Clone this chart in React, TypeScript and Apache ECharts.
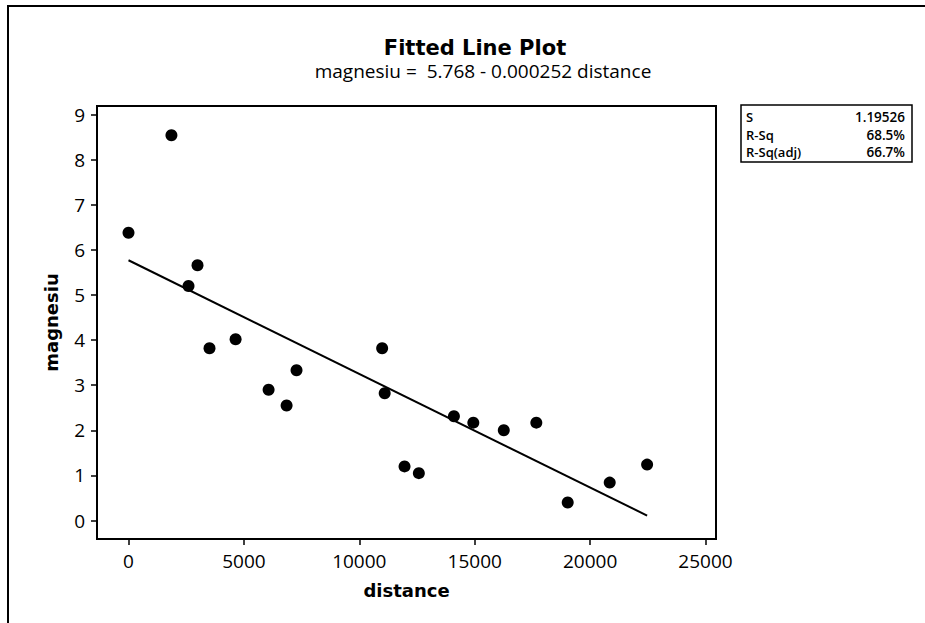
import React, { useEffect, useRef } from "react";
import * as echarts from "echarts";

const distance = [0, 1860, 2600, 2990, 3510, 4640, 6070, 6850, 7280, 10990, 11100, 11960, 12580, 14100, 14940, 16260, 17670, 19030, 20850, 22470];
const magnesiu = [6.38, 8.54, 5.2, 5.66, 3.82, 4.02, 2.9, 2.55, 3.33, 3.82, 2.82, 1.2, 1.05, 2.31, 2.17, 2.0, 2.17, 0.4, 0.84, 1.24];
const fitDistance = [0, 22470];
const fitMagnesiu = [5.77, 0.11];
const xTicks = [0, 5000, 10000, 15000, 20000, 25000];
const yTicks = [0, 1, 2, 3, 4, 5, 6, 7, 8, 9];
const statNames = ["S", "R-Sq", "R-Sq(adj)"];
const statValues = ["1.19526", "68.5%", "66.7%"];
const titleText = "Fitted Line Plot";
const subtitleText = "magnesiu =\u00a0\u00a05.768 - 0.000252 distance";

const FONT = "'Open Sans', 'DejaVu Sans', sans-serif";
const BOLD_FONT = "'DejaVu Sans', 'Open Sans', sans-serif";

export default function App() {
  const ref = useRef<HTMLDivElement>(null);
  useEffect(() => {
    document.body.style.margin = "0";
    document.body.style.overflow = "hidden";
    const chart = echarts.init(ref.current!, null, { renderer: "svg" });
    const points = distance.map((d, i) => [d, magnesiu[i]]);
    const fit = fitDistance.map((d, i) => [d, fitMagnesiu[i]]);
    const statRowsY = [117, 135, 152];
    const graphics: any[] = [
      {
        type: "line",
        shape: { x1: 8, y1: 5, x2: 8, y2: 640 },
        style: { stroke: "#000", lineWidth: 2 },
        silent: true,
      },
      {
        type: "line",
        shape: { x1: 7, y1: 6, x2: 925, y2: 6 },
        style: { stroke: "#000", lineWidth: 2 },
        silent: true,
      },
      {
        type: "rect",
        shape: { x: 741, y: 105, width: 171, height: 57 },
        style: { fill: "#fff", stroke: "#000", lineWidth: 1.5 },
        silent: true,
      },
      {
        type: "text",
        x: 475,
        y: 48,
        style: { text: titleText, fontFamily: BOLD_FONT, fontWeight: "bold", fontSize: 21, lineHeight: 20, fill: "#000", textAlign: "center", textVerticalAlign: "middle" },
      },
      {
        type: "text",
        x: 483,
        y: 71,
        style: { text: subtitleText, fontFamily: FONT, fontSize: 19, lineHeight: 19, fill: "#000", textAlign: "center", textVerticalAlign: "middle" },
      },
    ];
    statNames.forEach((n, i) => {
      graphics.push({
        type: "text",
        x: 746,
        y: statRowsY[i],
        style: { text: n, fontFamily: FONT, fontWeight: 600, fontSize: 13, lineHeight: 14, fill: "#000", textAlign: "left", textVerticalAlign: "middle" },
      });
      graphics.push({
        type: "text",
        x: 905,
        y: statRowsY[i],
        style: { text: statValues[i], fontFamily: FONT, fontWeight: 600, fontSize: 13.5, lineHeight: 14, fill: "#000", textAlign: "right", textVerticalAlign: "middle" },
      });
    });

    chart.setOption({
      animation: false,
      backgroundColor: "#fff",
      grid: { left: 97, top: 106, right: 209, bottom: 84, show: true, borderColor: "#000", borderWidth: 2, backgroundColor: "transparent" },
      xAxis: {
        type: "value",
        min: -1365,
        max: 25455,
        name: "distance",
        nameLocation: "middle",
        nameGap: 42,
        nameTextStyle: { fontFamily: BOLD_FONT, fontWeight: "bold", fontSize: 18, color: "#000" },
        axisLine: { show: true, onZero: false, lineStyle: { color: "#000", width: 2 } },
        axisTick: { show: true, inside: false, length: 6, lineStyle: { color: "#000", width: 1.5 }, customValues: xTicks },
        axisLabel: { show: true, margin: 12, fontFamily: FONT, fontSize: 19, color: "#000", customValues: xTicks, formatter: (v: number) => String(v) },
        splitLine: { show: false },
      },
      yAxis: {
        type: "value",
        min: -0.41,
        max: 9.19,
        name: "magnesiu",
        nameLocation: "middle",
        nameGap: 37,
        nameRotate: 90,
        nameTextStyle: { fontFamily: BOLD_FONT, fontWeight: "bold", fontSize: 18, color: "#000" },
        axisLine: { show: true, onZero: false, lineStyle: { color: "#000", width: 2 } },
        axisTick: { show: true, inside: false, length: 6, lineStyle: { color: "#000", width: 1.5 }, customValues: yTicks },
        axisLabel: { show: true, margin: 12, fontFamily: FONT, fontSize: 19, color: "#000", customValues: yTicks, formatter: (v: number) => String(v) },
        splitLine: { show: false },
      },
      series: [
        {
          type: "line",
          data: fit,
          symbol: "none",
          lineStyle: { color: "#000", width: 2 },
          silent: true,
          z: 2,
        },
        {
          type: "scatter",
          data: points,
          symbol: "circle",
          symbolSize: 12,
          itemStyle: { color: "#000", opacity: 1 },
          z: 3,
        },
      ],
      graphic: graphics,
    });
    return () => chart.dispose();
  }, []);
  return <div ref={ref} style={{ position: "fixed", left: 0, top: 0, width: 925, height: 623 }} />;
}
